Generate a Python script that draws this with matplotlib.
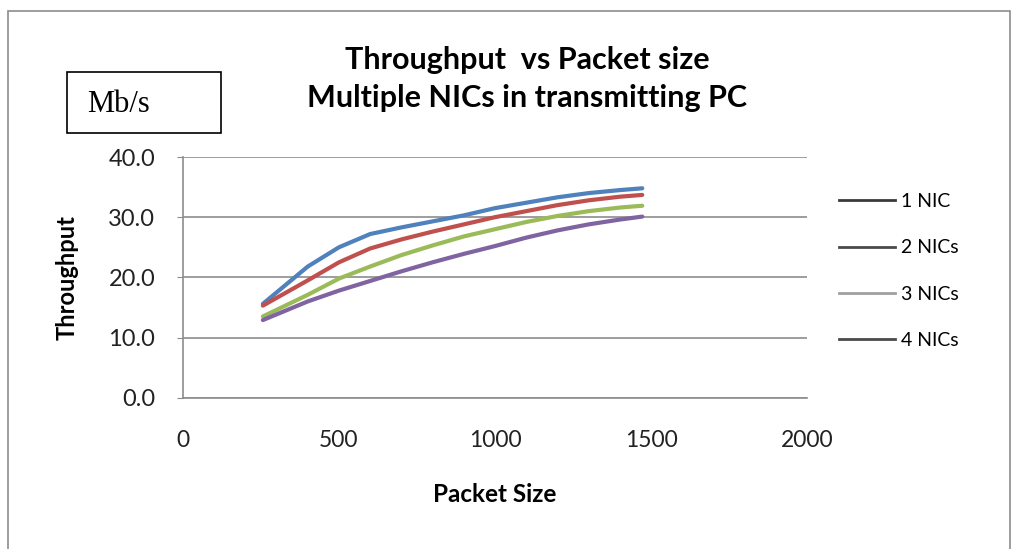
import matplotlib

matplotlib.use("Agg")

import matplotlib.pyplot as plt
from matplotlib.lines import Line2D
from matplotlib.patches import Rectangle


PACKET_SIZES = [256, 400, 500, 600, 700, 800, 900, 1000, 1100, 1200, 1300, 1400, 1472]

ONE_NIC = [15.6, 21.8, 25.0, 27.2, 28.3, 29.3, 30.3, 31.5, 32.4, 33.3, 34.0, 34.5, 34.8]
TWO_NICS = [15.3, 19.5, 22.5, 24.8, 26.3, 27.6, 28.8, 30.0, 31.0, 32.0, 32.8, 33.4, 33.7]
THREE_NICS = [13.5, 17.1, 19.8, 21.8, 23.7, 25.3, 26.8, 28.0, 29.2, 30.2, 31.0, 31.6, 31.9]
FOUR_NICS = [12.9, 16.0, 17.8, 19.4, 21.0, 22.5, 23.9, 25.2, 26.6, 27.8, 28.8, 29.6, 30.1]

SERIES_NAMES = ["1 NIC", "2 NICs", "3 NICs", "4 NICs"]
SERIES_COLORS = ["#4F81BD", "#C0504D", "#9BBB59", "#8064A2"]
LEGEND_COLORS = ["#3a3a3a", "#4a4a4a", "#a0a0a0", "#4a4a4a"]

X_TICKS = [0, 500, 1000, 1500, 2000]
Y_TICKS = [0, 10, 20, 30, 40]

FONT = "Lato"

fig = plt.figure(figsize=(10.19, 5.49), dpi=100)
fig.patch.set_facecolor("white")

# outer chart frame
fig.patches.append(
    Rectangle(
        (8 / 1019, -0.01),
        1002 / 1019,
        1 - 11 / 549 + 0.01,
        transform=fig.transFigure,
        fill=False,
        edgecolor="#8c8c8c",
        linewidth=1.2,
    )
)

ax = fig.add_axes([183 / 1019, 1 - 397.7 / 549, 624 / 1019, 240.7 / 549])

all_series = [ONE_NIC, TWO_NICS, THREE_NICS, FOUR_NICS]
for values, color in zip(all_series, SERIES_COLORS):
    ax.plot(
        PACKET_SIZES,
        values,
        color=color,
        linewidth=3,
        solid_capstyle="round",
        solid_joinstyle="round",
    )

ax.set_xlim(0, 2000)
ax.set_ylim(0, 40)
ax.set_xticks(X_TICKS)
ax.set_yticks(Y_TICKS)
ax.set_xticklabels([str(t) for t in X_TICKS], fontsize=16.5, family=FONT, color="#222222")
ax.set_yticklabels([f"{t:.1f}" for t in Y_TICKS], fontsize=17, family=FONT, color="#222222")
ax.tick_params(axis="x", length=0, pad=23)
ax.tick_params(axis="y", length=4, color="#8c8c8c", pad=16)

ax.yaxis.grid(True, color="#8c8c8c", linewidth=1.2)
ax.set_axisbelow(True)
for side in ["top", "right"]:
    ax.spines[side].set_visible(False)
for side in ["left", "bottom"]:
    ax.spines[side].set_color("#8c8c8c")
    ax.spines[side].set_linewidth(1.2)

ax.set_xlabel("Packet Size", fontsize=17.5, fontweight="bold", family=FONT, labelpad=23)
ax.set_ylabel("Throughput", fontsize=17, fontweight="bold", family=FONT, labelpad=21)

fig.text(
    527 / 1019,
    1 - 79 / 549,
    "Throughput  vs Packet size\nMultiple NICs in transmitting PC",
    ha="center",
    va="center",
    fontsize=22,
    fontweight="bold",
    family=FONT,
    linespacing=1.4,
)

# units box
fig.patches.append(
    Rectangle(
        (67 / 1019, 1 - 133 / 549),
        154 / 1019,
        61 / 549,
        transform=fig.transFigure,
        fill=False,
        edgecolor="black",
        linewidth=1.2,
    )
)
fig.text(
    87 / 1019,
    1 - 104 / 549,
    "Mb/s",
    ha="left",
    va="center",
    fontsize=22,
    family="Liberation Serif",
)

handles = [
    Line2D([0], [0], color=c, linewidth=2)
    for c in LEGEND_COLORS
]
fig.legend(
    handles,
    SERIES_NAMES,
    loc="center left",
    bbox_to_anchor=(821 / 1019, 1 - 271 / 549),
    frameon=False,
    prop={"family": FONT, "size": 14},
    handlelength=2.9,
    handletextpad=0.3,
    labelspacing=1.5,
)

fig.savefig("out.png", dpi=100)
